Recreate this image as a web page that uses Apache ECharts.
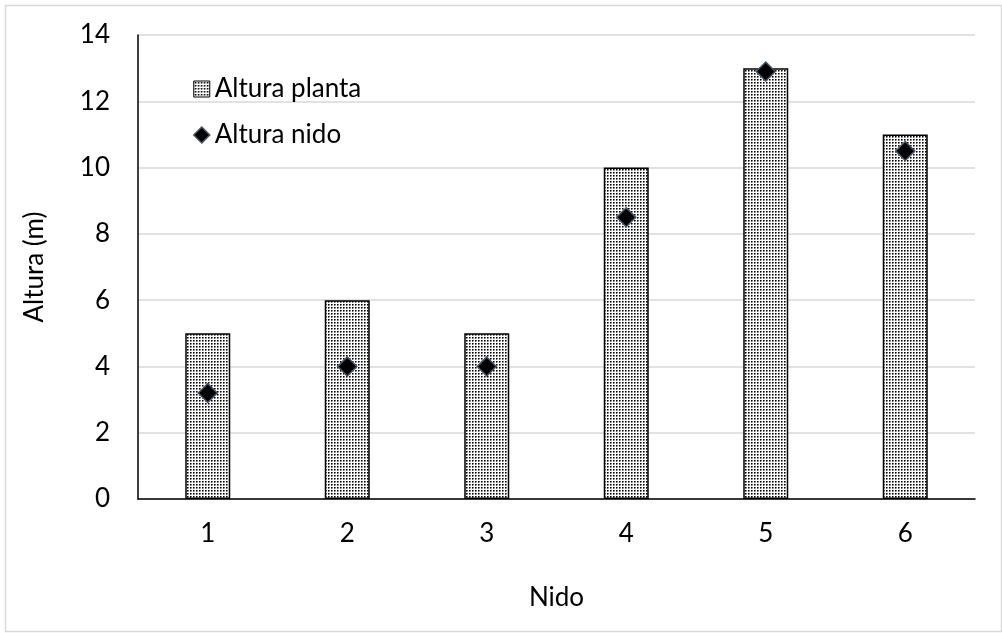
<!DOCTYPE html>
<html>
<head>
<meta charset="utf-8">
<script src="https://cdn.jsdelivr.net/npm/echarts@6/dist/echarts.min.js"></script>
<style>
  html, body { margin: 0; padding: 0; background: #fff; }
  #chart { width: 1002px; height: 633px; }
</style>
</head>
<body>
<div id="chart"></div>
<script>
// Nest data: plant height and nest height (m) per nest
const nidos = ['1', '2', '3', '4', '5', '6'];
const alturaPlanta = [5, 6, 5, 10, 13, 11];
const alturaNido = [3.2, 4, 4, 8.5, 12.9, 10.5];
const yTicks = [0, 2, 4, 6, 8, 10, 12, 14];

// Dotted fill for the plant bars
function dotPattern() {
  const c = document.createElement('canvas');
  c.width = 3; c.height = 3;
  const ctx = c.getContext('2d');
  ctx.fillStyle = '#ffffff';
  ctx.fillRect(0, 0, 3, 3);
  ctx.fillStyle = '#000000';
  ctx.fillRect(1, 1, 1, 1);
  ctx.fillStyle = '#666666';
  ctx.fillRect(2, 1, 1, 1);
  ctx.fillRect(1, 2, 1, 1);
  ctx.fillStyle = '#bbbbbb';
  ctx.fillRect(2, 2, 1, 1);
  return c;
}
const dots = { image: dotPattern(), repeat: 'repeat' };

const FONT = 'Lato';
const FS = 26;
const chart = echarts.init(document.getElementById('chart'), null, { renderer: 'canvas' });
chart.setOption({
  animation: false,
  backgroundColor: '#ffffff',
  textStyle: { fontFamily: FONT, color: '#000' },
  graphic: [{
    type: 'rect',
    left: 3, top: 3,
    shape: { width: 996, height: 626 },
    style: { fill: 'none', stroke: '#d9d9d9', lineWidth: 1.5 },
    silent: true
  }],
  grid: { left: 138, right: 27, top: 35, bottom: 134 },
  legend: {
    orient: 'vertical',
    left: 188, top: 71,
    itemGap: 20,
    itemWidth: 16, itemHeight: 16,
    textStyle: { fontFamily: FONT, fontSize: FS, color: '#000' },
    data: [
      { name: 'Altura planta', icon: 'rect', itemStyle: { color: dots, borderColor: '#000', borderWidth: 1 } },
      { name: 'Altura nido', icon: 'diamond', itemStyle: { color: '#000', borderColor: '#44546a', borderWidth: 1.5 } }
    ]
  },
  xAxis: {
    type: 'category',
    data: nidos,
    name: 'Nido',
    nameLocation: 'middle',
    nameGap: 86,
    nameTextStyle: { fontFamily: FONT, fontSize: FS, color: '#000' },
    axisLine: { lineStyle: { color: '#000', width: 1.5 } },
    axisTick: { show: false },
    axisLabel: { fontFamily: FONT, fontSize: FS, color: '#000', margin: 22 }
  },
  yAxis: {
    type: 'value',
    min: yTicks[0],
    max: yTicks[yTicks.length - 1],
    interval: 2,
    name: 'Altura (m)',
    nameLocation: 'middle',
    nameGap: 90,
    nameRotate: 90,
    nameTextStyle: { fontFamily: FONT, fontSize: FS, color: '#000' },
    axisLine: { show: true, lineStyle: { color: '#000', width: 1.5 } },
    axisTick: { show: false },
    axisLabel: { fontFamily: FONT, fontSize: FS, color: '#000', margin: 28 },
    splitLine: { lineStyle: { color: '#d9d9d9', width: 1.5 } }
  },
  series: [
    {
      name: 'Altura planta',
      type: 'bar',
      data: alturaPlanta,
      barWidth: 45,
      itemStyle: { color: dots, borderColor: '#000', borderWidth: 1.5 },
      z: 2
    },
    {
      name: 'Altura nido',
      type: 'scatter',
      data: alturaNido,
      symbol: 'diamond',
      symbolSize: 19,
      itemStyle: { color: '#000', borderColor: '#44546a', borderWidth: 1.5, opacity: 1 },
      z: 3
    }
  ]
});
</script>
</body>
</html>
